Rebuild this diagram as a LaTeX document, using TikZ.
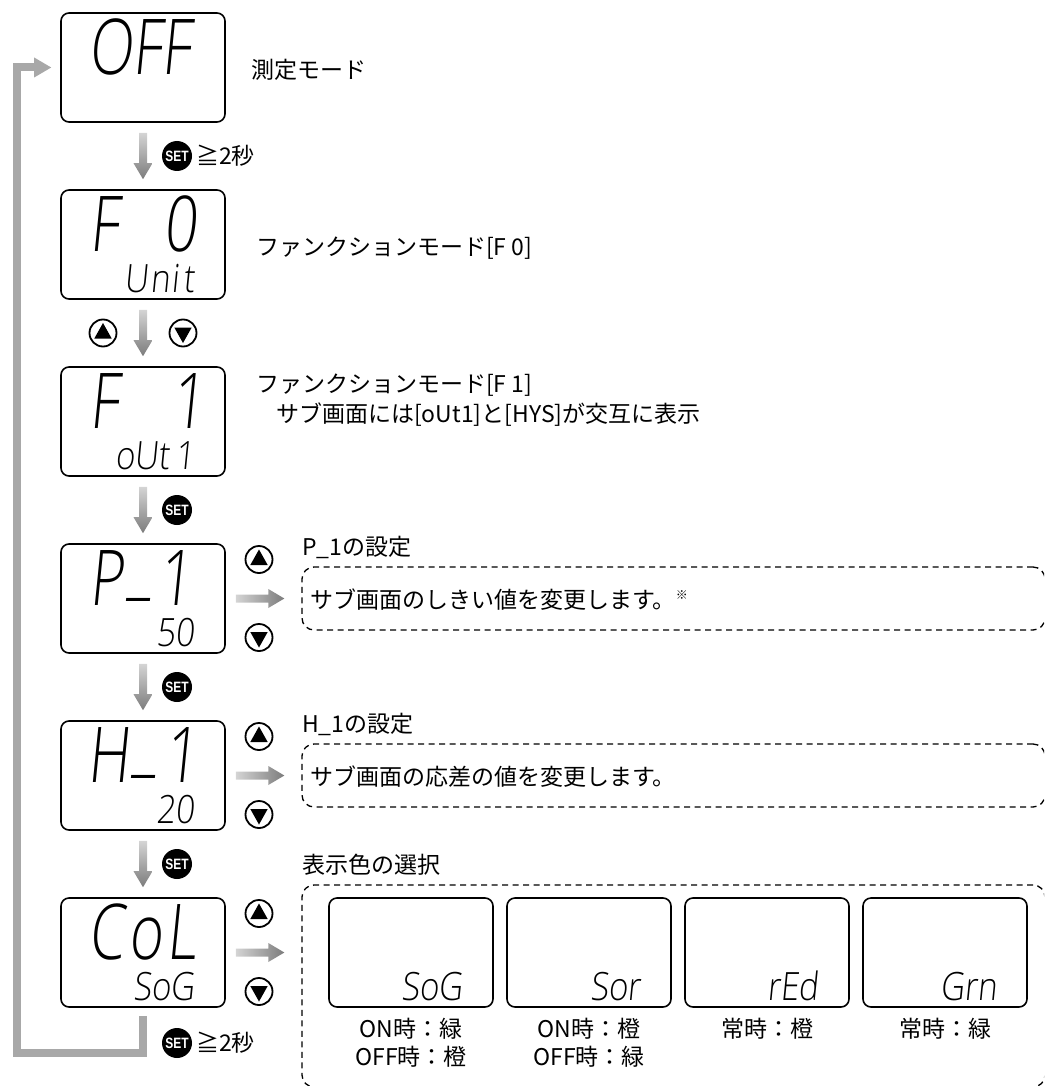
\documentclass[tikz,border=0pt]{standalone}
\usepackage{fontspec}
\setmainfont{Noto Sans CJK JP}
\newfontfamily\segfontbig{Open Sans Light}[FakeStretch=0.75,FakeSlant=0.1]
\newfontfamily\segfontsmall{Open Sans Light}[FakeStretch=0.85,FakeSlant=0.1]
\newfontfamily\setbtnfont{Liberation Sans}
\usetikzlibrary{calc}
\definecolor{glight}{HTML}{D4D4D4}
\definecolor{gdark}{HTML}{7C7C7C}
\definecolor{retgray}{HTML}{A8A8A8}
\tikzset{
  disp/.style={draw, line width=1.6pt, rounded corners=8pt, minimum width=164pt, minimum height=109pt, inner sep=0pt},
  bigseg/.style={anchor=base west, inner sep=0pt, font=\segfontbig\fontsize{77}{77}\selectfont},
  smallseg/.style={anchor=base east, inner sep=0pt, font=\segfontsmall\fontsize{39}{39}\selectfont},
  jtext/.style={anchor=west, inner sep=0pt, font=\fontsize{23}{28}\selectfont},
  ctext/.style={anchor=center, inner sep=0pt, font=\fontsize{23}{28}\selectfont},
  btn/.style={circle, draw, line width=1.8pt, fill=white, minimum size=27pt, inner sep=0pt},
  setbtn/.style={circle, fill=black, text=white, minimum size=30pt, inner sep=0pt, font=\setbtnfont\bfseries\fontsize{15}{15}\selectfont},
  dashbox/.style={draw, dash pattern=on 6pt off 4.5pt, line width=1.3pt, rounded corners=12pt, inner sep=0pt, minimum width=743pt},
}
\newcommand\vgarrow[2]{%
  \shade[top color=glight, bottom color=gdark]
    ($(#1)+(-4,10)$) -- ($(#2)+(-4,-26)$) -- ($(#2)+(-9.5,-26)$) -- ($(#2)+(0,-10)$)
    -- ($(#2)+(9.5,-26)$) -- ($(#2)+(4,-26)$) -- ($(#1)+(4,10)$) -- cycle;}
\newcommand\hgarrow[2]{%
  \shade[left color=glight, right color=gdark]
    ($(#1)+(10,-4)$) -- ($(#2)+(-33,-4)$) -- ($(#2)+(-33,-9.5)$) -- ($(#2)+(-17,0)$)
    -- ($(#2)+(-33,9.5)$) -- ($(#2)+(-33,4)$) -- ($(#1)+(10,4)$) -- cycle;}
\newcommand\upbutton[2]{%
  \node[btn] (#1) at (#2) {};
  \fill ($(#1.center)+(0,-10)$) -- ($(#1.center)+(8.7,5.5)$) -- ($(#1.center)+(-8.7,5.5)$) -- cycle;}
\newcommand\downbutton[2]{%
  \node[btn] (#1) at (#2) {};
  \fill ($(#1.center)+(0,10)$) -- ($(#1.center)+(8.7,-5.5)$) -- ($(#1.center)+(-8.7,-5.5)$) -- cycle;}
\newcommand\segset{\scalebox{0.8}[1]{SET}}
\newcommand\segus{\raisebox{14pt}{\_}}
\begin{document}
\begin{tikzpicture}[x=1pt,y=-1pt]
\useasboundingbox (0,0) rectangle (1044,1086);
\clip (0,0) rectangle (1044,1086);
% main displays
\node[disp] (off) at (143,67.5) {};
\node[disp] (f0) at (143,244.5) {};
\node[disp] (f1) at (143,421.5) {};
\node[disp] (p1) at (143,598.5) {};
\node[disp] (h1) at (143,775.5) {};
\node[disp] (col) at (143,952.5) {};
% big segment texts
\node[bigseg] (offt) at ($(off.north west)+(28,62)$) {OFF};
\node[bigseg] (f0t) at ($(f0.north west)+(29,62)$) {F\hspace{30pt} 0};
\node[bigseg] (f1t) at ($(f1.north west)+(29,62)$) {F\hspace{38pt} 1};
\node[bigseg] (p1t) at ($(p1.north west)+(29,62)$) {P\hspace{4pt}\segus\hspace{8pt}1};
\node[bigseg] (h1t) at ($(h1.north west)+(27,62)$) {H\hspace{4pt}\segus\hspace{8pt}1};
\node[bigseg] (colt) at ($(col.north west)+(28,62)$) {C\hspace{4pt}o\hspace{4pt}L};
% small segment texts
\node[smallseg] (f0s) at ($(f0.south east)+(-31,-7)$) {U\hspace{2pt}n\hspace{2pt}i\hspace{4pt}t};
\node[smallseg] (f1s) at ($(f1.south east)+(-31,-7)$) {oUt\hspace{6pt}1};
\node[smallseg] (p1s) at ($(p1.south east)+(-31,-7)$) {50};
\node[smallseg] (h1s) at ($(h1.south east)+(-31,-7)$) {20};
\node[smallseg] (cols) at ($(col.south east)+(-31,-7)$) {SoG};
% mode labels
\node[jtext] (l0) at (251,70) {測定モード};
\node[jtext] (l1) at (256,248) {ファンクションモード[F 0]};
\node[jtext] (l2) at (256,385) {ファンクションモード[F 1]};
\node[jtext] (l3) at (276,415) {サブ画面には[oUt1]と[HYS]が交互に表示};
% vertical arrows
\vgarrow{off.south}{f0.north}
\vgarrow{f0.south}{f1.north}
\vgarrow{f1.south}{p1.north}
\vgarrow{p1.south}{h1.north}
\vgarrow{h1.south}{col.north}
% SET buttons
\node[setbtn] (set1) at (177,156) {\segset};
\node[jtext] (set1t) at (196,156) {≧2秒};
\node[setbtn] (set2) at (177,510) {\segset};
\node[setbtn] (set3) at (177,687) {\segset};
\node[setbtn] (set4) at (177,864) {\segset};
\node[setbtn] (set5) at (177,1043) {\segset};
\node[jtext] (set5t) at (196,1043) {≧2秒};
% up/down buttons
\upbutton{ua}{103,333}
\downbutton{da}{183,333}
\upbutton{ub}{259,559.5}
\downbutton{db}{259,637.5}
\upbutton{uc}{259,736.5}
\downbutton{dc}{259,814.5}
\upbutton{ud}{259,913.5}
\downbutton{dd}{259,991.5}
% dashed boxes and labels
\node[dashbox, minimum height=63pt] (pdash) at (673.5,598.5) {};
\node[dashbox, minimum height=63pt] (hdash) at (673.5,775.5) {};
\node[dashbox, minimum height=202pt] (cdash) at (673.5,986) {};
\node[jtext] (pl) at (302,547) {P\_1の設定};
\node[jtext] (hl) at (302,724) {H\_1の設定};
\node[jtext] (cl) at (302,865) {表示色の選択};
\node[jtext] (pt) at (310,600) {サブ画面のしきい値を変更します。{\fontsize{12}{12}\selectfont\raisebox{9pt}{※}}};
\node[jtext] (ht) at (310,777) {サブ画面の応差の値を変更します。};
% horizontal arrows
\hgarrow{p1.east}{p1.east -| pdash.west}
\hgarrow{h1.east}{h1.east -| hdash.west}
\hgarrow{col.east}{col.east -| cdash.west}
% colour choice boxes
\node[disp] (c1) at (411,952.5) {};
\node[disp] (c2) at (589,952.5) {};
\node[disp] (c3) at (767,952.5) {};
\node[disp] (c4) at (945,952.5) {};
\node[smallseg] (c1s) at ($(c1.south east)+(-31,-7)$) {SoG};
\node[smallseg] (c2s) at ($(c2.south east)+(-31,-7)$) {Sor};
\node[smallseg] (c3s) at ($(c3.south east)+(-31,-7)$) {rEd};
\node[smallseg] (c4s) at ($(c4.south east)+(-31,-7)$) {Grn};
\node[ctext] (c1a) at (411,1029) {ON時：緑};
\node[ctext] (c1b) at (411,1057) {OFF時：橙};
\node[ctext] (c2a) at (589,1029) {ON時：橙};
\node[ctext] (c2b) at (589,1057) {OFF時：緑};
\node[ctext] (c3a) at (767,1029) {常時：橙};
\node[ctext] (c4a) at (945,1029) {常時：緑};
% return path
\coordinate (rb) at (17,1053);
\draw[retgray, line width=8pt, line join=miter] ($(col.south)+(0,8)$) |- (rb) -- (rb |- off.west) -- ($(off.west)+(-24,0)$);
\fill[retgray] ($(off.west)+(-9,0)$) -- ($(off.west)+(-26,-10)$) -- ($(off.west)+(-26,10)$) -- cycle;
\end{tikzpicture}
\end{document}
